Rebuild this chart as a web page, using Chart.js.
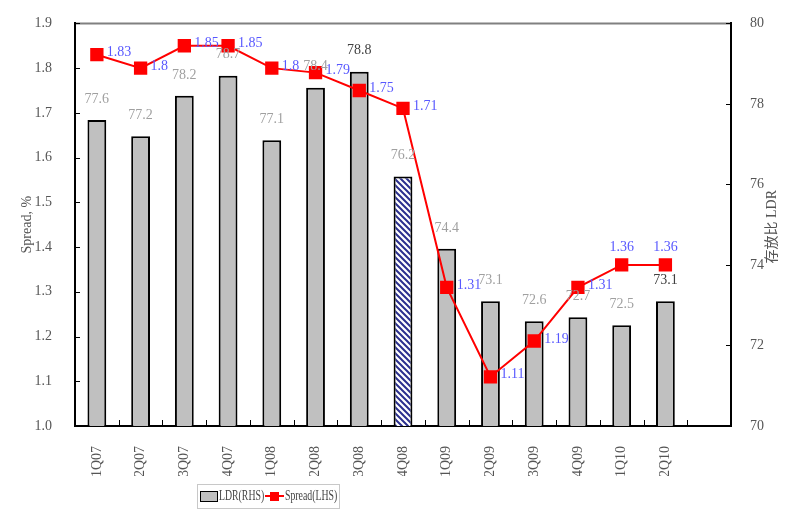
<!DOCTYPE html>
<html>
<head>
<meta charset="utf-8">
<script src="https://cdn.jsdelivr.net/npm/chart.js@4.4.1/dist/chart.umd.min.js"></script>
<style>
  body { margin: 0; background: #fff; }
  #wrap { width: 786px; height: 514px; }
</style>
</head>
<body>
<div id="wrap"><canvas id="myChart"></canvas></div>
<script>
const quarters = ['1Q07', '2Q07', '3Q07', '4Q07', '1Q08', '2Q08', '3Q08', '4Q08', '1Q09', '2Q09', '3Q09', '4Q09', '1Q10', '2Q10', '']
const ldr = [77.6, 77.2, 78.2, 78.7, 77.1, 78.4, 78.8, 76.2, 74.4, 73.1, 72.6, 72.7, 72.5, 73.1]
const spread = [1.83, 1.8, 1.85, 1.85, 1.8, 1.79, 1.75, 1.71, 1.31, 1.11, 1.19, 1.31, 1.36, 1.36]
const leftMin = 1.0, leftMax = 1.9, leftStep = 0.1
const rightMin = 70, rightMax = 80, rightStep = 2

const serif = "'Liberation Serif', 'Noto Sans CJK SC', serif"
const tickColor = '#555'

// hatched fill for 4Q08
function hatch() {
    let c = document.createElement('canvas')
    c.width = 6; c.height = 6
    let g = c.getContext('2d')
    g.fillStyle = '#fff'
    g.fillRect(0, 0, 6, 6)
    g.strokeStyle = '#2b2f8f'
    g.lineWidth = 2
    g.beginPath()
    g.moveTo(-1, -1); g.lineTo(7, 7)
    g.moveTo(-1, 5); g.lineTo(1, 7)
    g.moveTo(5, -1); g.lineTo(7, 1)
    g.stroke()
    return g.createPattern(c, 'repeat')
}
const pattern = hatch()
const barColors = ldr.map((v, i) => i == 7 ? pattern : '#c0c0c0')

const decor = {
    id: 'decor',
    afterDatasetsDraw(chart) {
        const {ctx, chartArea: a, scales: {x, y, y1}} = chart
        ctx.save()
        // top frame line
        ctx.strokeStyle = '#808080'
        ctx.lineWidth = 2
        ctx.beginPath()
        ctx.moveTo(a.left + 1, a.top)
        ctx.lineTo(a.right - 1, a.top)
        ctx.stroke()

        // inward tick marks
        ctx.lineWidth = 1
        ctx.strokeStyle = '#000'
        ctx.beginPath()
        y.ticks.forEach(t => {
            let py = Math.round(y.getPixelForValue(t.value)) + 0.5
            ctx.moveTo(a.left, py); ctx.lineTo(a.left + 5, py)
        })
        y1.ticks.forEach(t => {
            let py = Math.round(y1.getPixelForValue(t.value)) + 0.5
            ctx.moveTo(a.right, py); ctx.lineTo(a.right - 5, py)
        })
        let half = (x.getPixelForValue(1) - x.getPixelForValue(0)) / 2
        for (let i = 1; i < quarters.length; i++) {
            let px = Math.round(x.getPixelForValue(i) - half) + 0.5
            ctx.moveTo(px, a.bottom); ctx.lineTo(px, a.bottom - 6)
        }
        ctx.stroke()

        // bar value labels
        ctx.font = '14px ' + serif
        ctx.textAlign = 'center'
        ctx.textBaseline = 'middle'
        chart.getDatasetMeta(0).data.forEach((bar, i) => {
            ctx.fillStyle = (i == 6 || i == 13) ? '#404040' : '#a0a0a0'
            ctx.fillText(ldr[i].toFixed(1), bar.x, bar.y - 21)
        })
        // spread labels
        ctx.fillStyle = '#5858ff'
        chart.getDatasetMeta(1).data.forEach((pt, i) => {
            if (i >= 12) {
                ctx.textAlign = 'center'
                ctx.fillText(String(spread[i]), pt.x, pt.y - 18)
            } else {
                ctx.textAlign = 'left'
                ctx.fillText(String(spread[i]), pt.x + 10, pt.y - 2)
            }
        })

        // right axis title (reads bottom to top)
        ctx.fillStyle = tickColor
        ctx.textAlign = 'center'
        ctx.translate(772, (a.top + a.bottom) / 2 + 2)
        ctx.rotate(-Math.PI / 2)
        ctx.fillText('存放比 LDR', 0, 0)
        ctx.restore()
    },
    afterDraw(chart) {
        const ctx = chart.ctx
        ctx.save()
        // legend box
        ctx.strokeStyle = '#c8c8c8'
        ctx.lineWidth = 1
        ctx.strokeRect(197.5, 484.5, 142, 24)
        ctx.fillStyle = '#c0c0c0'
        ctx.fillRect(200, 491, 17, 10)
        ctx.strokeStyle = '#000'
        ctx.strokeRect(200.5, 491.5, 17, 10)
        ctx.strokeStyle = '#ff0000'
        ctx.lineWidth = 2
        ctx.beginPath()
        ctx.moveTo(265, 496); ctx.lineTo(284, 496)
        ctx.stroke()
        ctx.fillStyle = '#ff0000'
        ctx.fillRect(270, 492, 9, 9)

        ctx.fillStyle = '#444'
        ctx.font = '14px ' + serif
        ctx.textBaseline = 'middle'
        ctx.textAlign = 'left'
        ;[['LDR(RHS)', 219], ['Spread(LHS)', 285]].forEach(([txt, lx]) => {
            ctx.save()
            ctx.translate(lx, 496)
            ctx.scale(0.7, 1)
            ctx.fillText(txt, 0, 0)
            ctx.restore()
        })
        ctx.restore()
    }
}

const ctx = document.getElementById('myChart')
const myChart = new Chart(ctx, {
    data: {
        labels: quarters,
        datasets: [{
            type: 'bar',
            label: 'LDR(RHS)',
            data: ldr,
            yAxisID: 'y1',
            backgroundColor: barColors,
            borderColor: '#000',
            borderWidth: 2,
            barPercentage: 0.43,
            categoryPercentage: 1,
            order: 1
        }, {
            type: 'line',
            label: 'Spread(LHS)',
            data: spread,
            yAxisID: 'y',
            borderColor: '#ff0000',
            backgroundColor: '#ff0000',
            borderWidth: 2,
            pointStyle: 'rect',
            pointRadius: 8,
            pointHoverRadius: 8,
            tension: 0,
            order: 0
        }]
    },
    options: {
        responsive: true,
        maintainAspectRatio: false,
        animation: false,
        layout: { padding: { top: 23, left: 0, right: 0, bottom: 38 } },
        plugins: {
            legend: { display: false },
            tooltip: { enabled: false }
        },
        scales: {
            x: {
                grid: { display: false },
                border: { display: true, color: '#000', width: 2 },
                ticks: {
                    color: tickColor,
                    font: { family: serif, size: 14 },
                    minRotation: 90,
                    maxRotation: 90,
                    autoSkip: false,
                    padding: 12
                },
                afterFit: s => { s.height = 50 }
            },
            y: {
                position: 'left',
                min: leftMin,
                max: leftMax,
                grid: { display: false },
                border: { display: true, color: '#000', width: 2 },
                ticks: {
                    stepSize: leftStep,
                    color: tickColor,
                    font: { family: serif, size: 14 },
                    padding: 15,
                    callback: v => v.toFixed(1)
                },
                title: {
                    display: true,
                    text: 'Spread, %',
                    color: tickColor,
                    font: { family: serif, size: 14 },
                    padding: { top: 19, bottom: 0 }
                },
                afterFit: s => { s.width = 75 }
            },
            y1: {
                position: 'right',
                min: rightMin,
                max: rightMax,
                grid: { display: false },
                border: { display: true, color: '#000', width: 2 },
                ticks: {
                    stepSize: rightStep,
                    color: tickColor,
                    font: { family: serif, size: 14 },
                    padding: 11
                },
                afterFit: s => { s.width = 55 }
            }
        }
    },
    plugins: [decor]
})
</script>
</body>
</html>
